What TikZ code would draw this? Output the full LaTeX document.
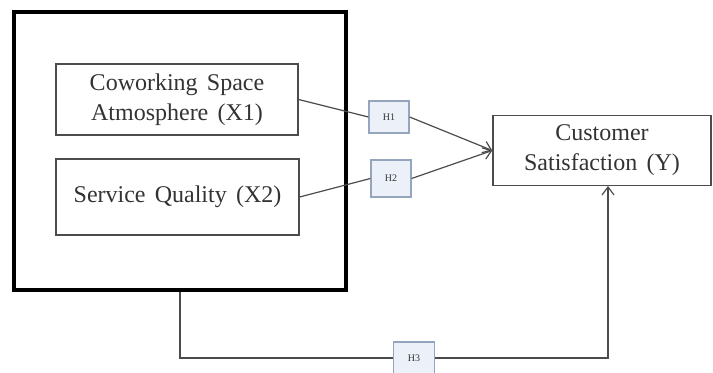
\documentclass[tikz,border=0pt]{standalone}
\usepackage{fontspec}
\setmainfont{Liberation Serif}
\usetikzlibrary{arrows.meta}
\newcommand\wordsp{\spaceskip=4.6pt plus 1pt\relax}
\definecolor{hborder}{RGB}{150,165,190}
\definecolor{hfill}{RGB}{236,241,249}
\begin{document}
\begin{tikzpicture}[x=0.5pt,y=-0.5pt,
  box/.style={draw=black!70, line width=0.7pt, align=center, inner sep=0pt,
    text=black!80, font=\fontsize{12}{15}\selectfont\wordsp},
  outerbox/.style={draw=black, line width=1.6pt, inner sep=0pt},
  hbox/.style={draw=hborder, fill=hfill, line width=0.6pt, inner sep=0pt,
    text=black!80, font=\fontsize{5}{6}\selectfont},
  conn/.style={draw=black!70, line width=0.6pt},
  tip/.style={-{Straight Barb[length=4pt,width=6pt]}}
]
\useasboundingbox (0,0) rectangle (713,373);
\node[outerbox, minimum width=166pt, minimum height=139pt] (outer) at (180,151) {};
\node[box, minimum width=121pt, minimum height=35.5pt] (x1) at (177,99.5) {Coworking Space\\Atmosphere (X1)};
\node[box, minimum width=121.5pt, minimum height=38pt] (x2) at (177.5,197) {Service Quality (X2)};
\node[box, minimum width=109pt, minimum height=35pt] (y) at (602,150.5) {Customer\\Satisfaction (Y)};
\node[hbox, minimum width=20pt, minimum height=16pt] (h1) at (389,117) {H1};
\node[hbox, minimum width=20pt, minimum height=18.5pt] (h2) at (391,178.5) {H2};
\node[hbox, minimum width=20.5pt, minimum height=16pt] (h3) at (414,358) {H3};
\coordinate (yin) at (608,186);
\draw[conn] (x1.east) -- (h1.west);
\draw[conn, tip] (h1.east) -- (y.west);
\draw[conn] (x2.east) -- (h2.west);
\draw[conn, tip] (h2.east) -- (y.west);
\draw[conn] (outer.south) |- (h3.west);
\draw[conn, tip] (h3.east) -| (yin);
\end{tikzpicture}
\end{document}
